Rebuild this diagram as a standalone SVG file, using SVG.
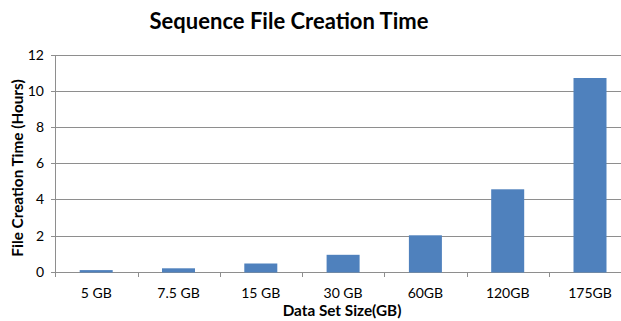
<svg xmlns="http://www.w3.org/2000/svg" width="621" height="321" viewBox="0 0 621 321">
  <style>
    .grid { stroke: #8e8e8e; stroke-width: 1; fill: none; }
    .axis { stroke: #8e8e8e; stroke-width: 1; fill: none; }
    .bar { fill: #4f81bd; }
    .tick { font-family: Lato, "Open Sans", sans-serif; font-size: 14px; fill: #000; }
    .ylab { text-anchor: end; }
    .xlab { text-anchor: middle; }
    .title { font-family: Lato, "Open Sans", sans-serif; font-weight: bold; font-size: 22px; text-anchor: middle; fill: #000; }
    .atitle { font-family: Lato, "Open Sans", sans-serif; font-weight: bold; font-size: 15.3px; text-anchor: middle; fill: #000; }
  </style>
  <rect width="621" height="321" fill="#ffffff"/>

  <text class="title" x="289" y="29">Sequence File Creation Time</text>

  <!-- horizontal gridlines, 2-hour steps -->
  <g id="gridlines">
    <line class="grid" x1="51" y1="55.5" x2="621" y2="55.5"/>
    <line class="grid" x1="51" y1="91.5" x2="621" y2="91.5"/>
    <line class="grid" x1="51" y1="127.5" x2="621" y2="127.5"/>
    <line class="grid" x1="51" y1="163.5" x2="621" y2="163.5"/>
    <line class="grid" x1="51" y1="199.5" x2="621" y2="199.5"/>
    <line class="grid" x1="51" y1="236.5" x2="621" y2="236.5"/>
  </g>

  <!-- axes with tick marks -->
  <g id="axes">
    <line class="axis" x1="55.5" y1="55" x2="55.5" y2="272"/>
    <line class="axis" x1="51" y1="272.5" x2="621" y2="272.5"/>
    <line class="axis" x1="55.5" y1="272" x2="55.5" y2="277"/>
    <line class="axis" x1="138.5" y1="272" x2="138.5" y2="277"/>
    <line class="axis" x1="220.5" y1="272" x2="220.5" y2="277"/>
    <line class="axis" x1="302.5" y1="272" x2="302.5" y2="277"/>
    <line class="axis" x1="384.5" y1="272" x2="384.5" y2="277"/>
    <line class="axis" x1="467.5" y1="272" x2="467.5" y2="277"/>
    <line class="axis" x1="549.5" y1="272" x2="549.5" y2="277"/>
  </g>

  <!-- y-axis value labels -->
  <g id="y-labels" class="tick ylab">
    <text x="44" y="60">12</text>
    <text x="44" y="96">10</text>
    <text x="44" y="132">8</text>
    <text x="44" y="168">6</text>
    <text x="44" y="204">4</text>
    <text x="44" y="241">2</text>
    <text x="44" y="277">0</text>
  </g>

  <!-- bars -->
  <g id="bar-5gb"><rect class="bar" x="79.7" y="270.1" width="33" height="2.4"/></g>
  <g id="bar-7-5gb"><rect class="bar" x="162" y="268.3" width="33" height="4.2"/></g>
  <g id="bar-15gb"><rect class="bar" x="244.3" y="263.5" width="33" height="9"/></g>
  <g id="bar-30gb"><rect class="bar" x="326.6" y="254.8" width="33" height="17.7"/></g>
  <g id="bar-60gb"><rect class="bar" x="408.9" y="235.3" width="33" height="37.2"/></g>
  <g id="bar-120gb"><rect class="bar" x="491.2" y="189.3" width="33" height="83.2"/></g>
  <g id="bar-175gb"><rect class="bar" x="573.5" y="78" width="33" height="194.5"/></g>

  <!-- category labels -->
  <g id="x-labels" class="tick xlab">
    <text x="96.2" y="298">5 GB</text>
    <text x="178.5" y="298">7.5 GB</text>
    <text x="260.8" y="298">15 GB</text>
    <text x="343.1" y="298">30 GB</text>
    <text x="425.4" y="298">60GB</text>
    <text x="507.7" y="298">120GB</text>
    <text x="590" y="298">175GB</text>
  </g>

  <text class="atitle" x="342" y="316">Data Set Size(GB)</text>
  <text class="atitle" transform="translate(23,168) rotate(-90)">File Creation Time (Hours)</text>
</svg>
